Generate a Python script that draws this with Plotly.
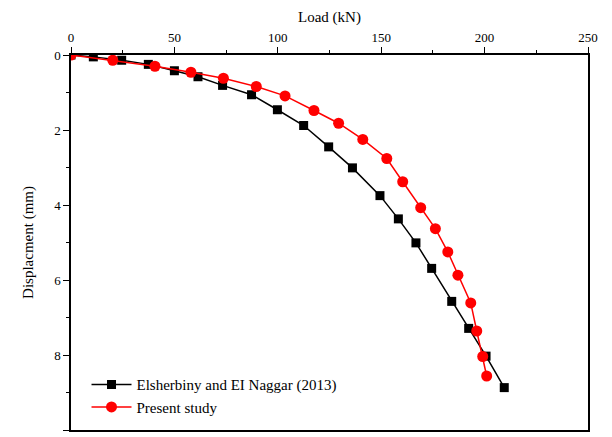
import plotly.graph_objects as go

# Elsherbiny and EI Naggar (2013)
ref_load = [0, 10.8, 24.5, 37.4, 50.0, 61.4, 73.3, 87.3, 99.8, 112.5, 124.6, 136.1,
            149.4, 158.3, 166.8, 174.4, 184.1, 192.3, 200.7, 209.5]
ref_disp = [0, 0.05, 0.14, 0.25, 0.42, 0.58, 0.81, 1.06, 1.46, 1.88, 2.45, 3.01,
            3.75, 4.37, 5.01, 5.69, 6.57, 7.29, 8.03, 8.87]

# Present study
pre_load = [0, 20.2, 40.6, 58.0, 73.7, 89.6, 103.5, 117.5, 129.4, 141.1, 152.7,
            160.4, 169.1, 176.2, 182.2, 187.1, 193.3, 196.2, 199.1, 201.0]
pre_disp = [0, 0.14, 0.30, 0.46, 0.62, 0.84, 1.09, 1.48, 1.82, 2.25, 2.76,
            3.38, 4.07, 4.63, 5.25, 5.87, 6.61, 7.36, 8.04, 8.56]

x_ticks = [0, 50, 100, 150, 200, 250]
y_ticks = [0, 2, 4, 6, 8, 10]

font = "Liberation Serif, Times New Roman, serif"

fig = go.Figure()
fig.add_trace(go.Scatter(
    x=ref_load, y=ref_disp, mode="lines+markers",
    name="Elsherbiny and EI Naggar (2013)",
    line=dict(color="black", width=1.5),
    marker=dict(symbol="square", size=9, color="black"),
))
fig.add_trace(go.Scatter(
    x=pre_load, y=pre_disp, mode="lines+markers",
    name="Present study",
    line=dict(color="#ff0000", width=1.5),
    marker=dict(symbol="circle", size=11, color="#ff0000"),
))

axis_common = dict(
    showgrid=False, zeroline=False, showline=True, linecolor="black", linewidth=1.5,
    mirror=True, ticks="outside", ticklen=6, tickwidth=1.2, tickcolor="black",
    tickfont=dict(family=font, size=13, color="black"), automargin=False,
)

fig.update_layout(
    width=612, height=437,
    margin=dict(l=71, r=24, t=55, b=7),
    paper_bgcolor="white", plot_bgcolor="white",
    font=dict(family=font, color="black"),
    showlegend=True,
    legend=dict(x=0.03, y=0.165, xanchor="left", yanchor="top",
                bgcolor="rgba(0,0,0,0)", font=dict(family=font, size=15, color="black"),
                tracegroupgap=0, itemwidth=40),
    xaxis=dict(
        axis_common, side="top", range=[0, 250], tickvals=x_ticks,
        title=dict(text="Load (kN)", font=dict(family=font, size=15, color="black"), standoff=4),
        minor=dict(ticks="outside", ticklen=3, tickwidth=1.2, tickcolor="black", dtick=25),
    ),
    yaxis=dict(
        axis_common, range=[10, 0], tickvals=y_ticks,
        title=dict(text="Displacment (mm)", font=dict(family=font, size=15, color="black"), standoff=17),
        minor=dict(ticks="outside", ticklen=3, tickwidth=1.2, tickcolor="black", dtick=1),
    ),
)

fig.write_html(
    "out.html",
    config={"displayModeBar": False},
    post_script="document.body.style.margin='0px';document.body.style.overflow='hidden';",
)
